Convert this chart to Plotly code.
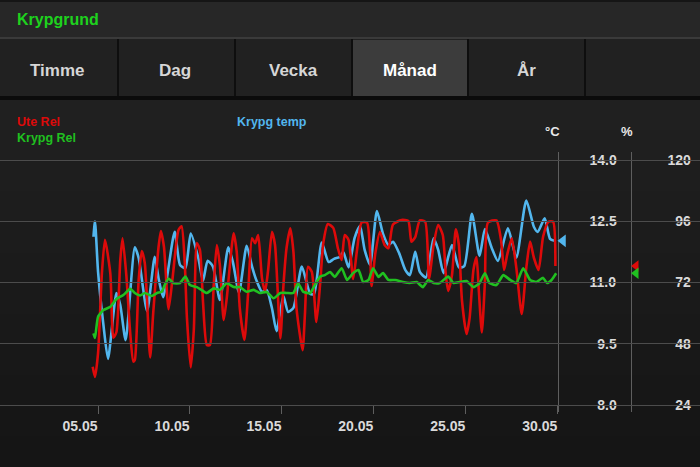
import plotly.graph_objects as go
from datetime import datetime, timedelta

YEAR = 2013

# ---------------- data ----------------
# time stamps as "dd.mm HH"
blue_times = ["04.05 18","04.05 20","05.05 00","05.05 07","05.05 13","06.05 00","06.05 05","06.05 12",
              "07.05 00","07.05 05","07.05 16","08.05 02","08.05 07","08.05 13","09.05 04","09.05 11",
              "09.05 18","10.05 01","10.05 11","10.05 17","10.05 23","11.05 06","11.05 15","12.05 02",
              "12.05 08","12.05 16","13.05 02","13.05 09","13.05 15","13.05 22","14.05 04","14.05 11",
              "14.05 17","15.05 02","15.05 08","15.05 15","16.05 02","16.05 13","16.05 18","17.05 04",
              "17.05 13","17.05 20","18.05 04","18.05 08","18.05 15","18.05 23","19.05 06","19.05 12",
              "19.05 19","20.05 04","20.05 12","20.05 19","21.05 01","21.05 09","21.05 17","21.05 23",
              "22.05 06","22.05 12","22.05 20","23.05 06","23.05 12","23.05 19","24.05 06","24.05 15",
              "24.05 22","25.05 08","25.05 18","26.05 01","26.05 10","26.05 18","27.05 07","27.05 18",
              "28.05 07","28.05 17","28.05 22","29.05 07","29.05 14","29.05 20"]
krypg_temp = [12.12,12.49,11.26,9.96,9.13,10.74,10.45,9.59,
              11.86,11.60,10.30,11.63,11.10,10.64,12.24,11.43,
              11.35,12.20,11.59,11.04,11.53,11.39,10.57,11.86,
              11.50,10.75,11.90,11.39,11.04,10.77,10.82,10.37,
              9.81,10.67,10.28,10.38,11.39,10.72,10.72,11.98,
              11.50,11.58,11.63,11.75,11.37,12.10,12.38,11.80,
              11.43,12.75,12.19,11.92,12.00,11.72,11.31,11.18,
              11.75,11.26,11.12,12.08,11.80,11.23,11.92,11.37,
              11.40,12.68,11.65,12.31,11.84,11.53,12.33,11.61,
              13.01,12.36,12.24,12.57,12.07,12.02]

red_times = ["04.05 17","04.05 20","05.05 00","05.05 05","05.05 09","05.05 16","05.05 20","06.05 00",
             "06.05 05","06.05 08","06.05 13","06.05 18","06.05 22","07.05 00","07.05 05","07.05 09",
             "07.05 13","07.05 20","08.05 00","08.05 07","08.05 10","08.05 14","08.05 20","09.05 01",
             "09.05 09","09.05 13","09.05 17","09.05 20","10.05 01","10.05 05","10.05 09","10.05 13",
             "10.05 17","10.05 22","11.05 02","11.05 07","11.05 11","11.05 15","11.05 20","12.05 00",
             "12.05 09","12.05 13","12.05 17","12.05 23","13.05 04","13.05 09","13.05 13","13.05 17",
             "13.05 22","14.05 02","14.05 06","14.05 11","14.05 15","14.05 22","15.05 02","15.05 06",
             "15.05 11","15.05 15","15.05 19","16.05 03","16.05 06","16.05 10","16.05 15","16.05 21",
             "17.05 02","17.05 06","17.05 12","17.05 19","18.05 01","18.05 06","18.05 10","18.05 15",
             "18.05 21","19.05 02","19.05 08","19.05 15","19.05 19","19.05 21","20.05 02","20.05 08",
             "20.05 14","20.05 19","21.05 01","21.05 12","21.05 21","22.05 01","22.05 06","22.05 12",
             "22.05 19","23.05 00","23.05 06","23.05 12","23.05 18","23.05 22","24.05 01","24.05 06",
             "24.05 11","24.05 15","24.05 19","25.05 01","25.05 05","25.05 10","25.05 14","25.05 17",
             "25.05 21","26.05 01","26.05 05","26.05 16","26.05 22","27.05 02","27.05 06","27.05 12",
             "27.05 18","28.05 01","28.05 07","28.05 12","28.05 17","28.05 23","29.05 05","29.05 12",
             "29.05 18","29.05 21"]
ute_rel = [39.0,35.0,44.3,75.6,88.7,75.6,50.4,52.6,
           80.8,89.3,74.5,52.1,41.0,41.6,73.0,84.3,
           79.6,42.6,60.0,86.0,92.2,86.0,61.5,73.0,
           92.6,94.0,80.8,58.3,38.7,53.4,87.5,84.7,
           64.4,47.5,47.5,71.0,86.7,78.9,57.3,65.9,
           91.3,84.0,62.0,49.5,68.3,89.3,87.4,90.6,
           73.6,68.4,76.9,91.9,86.7,50.1,71.0,85.4,
           93.2,84.1,62.0,45.5,59.3,78.2,76.2,56.5,
           71.8,87.4,94.9,93.4,85.5,80.8,90.6,88.7,
           73.4,84.7,95.5,95.5,84.7,70.6,83.6,91.8,
           86.7,85.4,94.7,96.5,96.1,88.0,89.8,96.3,
           95.8,73.4,86.7,94.5,90.6,74.9,68.7,74.9,
           92.8,86.7,65.1,51.8,58.1,76.9,82.0,69.1,
           52.4,72.2,95.5,96.3,88.7,76.9,82.8,89.3,
           77.7,59.7,77.7,88.0,81.6,76.9,90.0,95.8,
           95.8,78.5]

green_times = ["04.05 18","04.05 20","05.05 00","05.05 07","05.05 16","06.05 00","06.05 09","06.05 18",
               "07.05 00","07.05 07","07.05 13","07.05 22","08.05 05","08.05 11","08.05 15","08.05 20",
               "09.05 02","09.05 11","09.05 18","10.05 00","10.05 09","10.05 15","10.05 22","11.05 07",
               "11.05 15","12.05 00","12.05 09","12.05 17","13.05 02","13.05 11","13.05 19","14.05 04",
               "14.05 13","14.05 22","15.05 06","15.05 15","15.05 21","16.05 04","16.05 13","16.05 19",
               "17.05 02","17.05 08","17.05 15","17.05 21","18.05 06","18.05 13","18.05 21","19.05 04",
               "19.05 10","19.05 17","19.05 23","20.05 06","20.05 12","20.05 19","21.05 04","21.05 14",
               "21.05 23","22.05 08","22.05 16","22.05 23","23.05 06","23.05 14","24.05 01","24.05 08",
               "24.05 16","25.05 01","25.05 10","25.05 18","26.05 01","26.05 07","26.05 16","27.05 01",
               "27.05 10","27.05 18","28.05 03","28.05 12","28.05 20","29.05 05","29.05 10","29.05 16",
               "29.05 22"]
krypg_rel = [52.1,50.3,58.6,61.2,62.5,65.5,67.1,69.5,
             67.9,66.9,67.9,66.7,67.9,68.4,71.0,73.6,
             71.8,71.8,74.3,71.0,70.2,69.1,67.9,69.7,
             69.1,71.7,70.2,70.2,68.4,69.1,67.9,68.3,
             65.8,67.9,67.9,67.9,71.7,68.3,67.9,71.0,
             74.3,74.9,76.1,74.2,77.6,73.0,75.7,76.9,
             72.2,73.0,77.6,74.2,75.7,73.0,73.0,72.2,
             71.8,72.2,70.2,73.0,71.8,71.8,74.3,71.8,
             72.2,72.6,70.2,71.8,75.6,71.8,71.0,74.9,
             73.0,71.8,77.6,73.0,72.2,73.8,71.8,73.0,
             75.6]

temp_ticks = [8.0, 9.5, 11.0, 12.5, 14.0]
rel_ticks = [24, 48, 72, 96, 120]
date_ticks = ["05.05", "10.05", "15.05", "20.05", "25.05", "30.05"]
tabs = ["Timme", "Dag", "Vecka", "Månad", "År"]
active_tab = "Månad"

# ---------------- styling ----------------
W, H = 700, 467
FONT = "Liberation Sans"
RED = "#dd0a0a"
GREEN = "#20c020"
BLUE = "#52b6ee"
GRID = "#4c4c4c"
AXIS = "#5e5e5e"
TXT = "#dadada"


def ts(s):
    d, h = s.split()
    dd, mm = d.split(".")
    return f"{YEAR}-{mm}-{dd} {int(h):02d}:00"


def px(x):
    return x / W


def py(y):
    return 1 - y / H


x_start = datetime(YEAR, 4, 29, 16, 0)
x_end = datetime(YEAR, 5, 30, 0, 0)
plot_right = 557.7
px_per_day = plot_right / ((x_end - x_start).total_seconds() / 86400)
# same time scale stretched over the full page width (used for the axis markers)
x_full_end = x_start + timedelta(days=W / px_per_day)

# y scales: 8..14 degC <-> 24..120 %, plot domain from y=152 to y=412 px
px_per_deg = (405 - 160) / 6.0
t_lo = 8.0 - (412 - 405) / px_per_deg
t_hi = 14.0 + (160 - 152) / px_per_deg
def deg_to_pct(v):
    return 24 + (v - 8.0) * 16
r_lo, r_hi = deg_to_pct(t_lo), deg_to_pct(t_hi)

fig = go.Figure()

fig.add_trace(go.Scatter(x=[ts(t) for t in red_times], y=ute_rel, yaxis="y2", mode="lines",
                         line=dict(color=RED, width=2.6, shape="spline", smoothing=0.6),
                         name="Ute Rel", hoverinfo="skip"))
fig.add_trace(go.Scatter(x=[ts(t) for t in green_times], y=krypg_rel, yaxis="y2", mode="lines",
                         line=dict(color=GREEN, width=2.6, shape="spline", smoothing=0.5),
                         name="Krypg Rel", hoverinfo="skip"))
fig.add_trace(go.Scatter(x=[ts(t) for t in blue_times], y=krypg_temp, mode="lines",
                         line=dict(color=BLUE, width=2.6, shape="spline", smoothing=0.6),
                         name="Krypg temp", hoverinfo="skip"))

# current-value markers beside the axes (last value of each series)
blue_mark_x = x_end + timedelta(days=5.3 / px_per_day)
rel_mark_x = x_end + timedelta(days=(636 - plot_right) / px_per_day)
fig.add_trace(go.Scatter(x=[blue_mark_x], y=[krypg_temp[-1]], xaxis="x2", yaxis="y", mode="markers",
                         cliponaxis=False,
                         marker=dict(symbol="triangle-left", size=11, color=BLUE, line=dict(width=0)),
                         hoverinfo="skip", showlegend=False))
fig.add_trace(go.Scatter(x=[rel_mark_x], y=[ute_rel[-1]], xaxis="x2", yaxis="y2", mode="markers",
                         cliponaxis=False,
                         marker=dict(symbol="triangle-left", size=10, color=RED, line=dict(width=0)),
                         hoverinfo="skip", showlegend=False))
fig.add_trace(go.Scatter(x=[rel_mark_x], y=[krypg_rel[-1]], xaxis="x2", yaxis="y2", mode="markers",
                         cliponaxis=False,
                         marker=dict(symbol="triangle-left", size=10, color=GREEN, line=dict(width=0)),
                         hoverinfo="skip", showlegend=False))

# ---------------- background / chrome shapes ----------------
shapes = []
def rect(x0, y0, x1, y1, color):
    shapes.append(dict(type="rect", xref="paper", yref="paper", x0=px(x0), x1=px(x1),
                       y0=py(y1), y1=py(y0), fillcolor=color, line=dict(width=0), layer="below"))

# soft vertical gradient of the chart area
grad = ["#202020", "#1f1f1f", "#1e1e1e", "#1d1d1d", "#1c1c1c", "#1b1b1b", "#1a1a1a",
        "#191919", "#181818", "#171717", "#161616", "#151515"]
band = (467 - 100) / len(grad)
for i, c in enumerate(grad):
    rect(0, 100 + i * band, 700, 100 + (i + 1) * band + 0.5, c)
rect(0, 0, 700, 38, "#272727")
rect(0, 0, 700, 2, "#151515")
rect(0, 37, 700, 39, "#3a3a3a")
rect(0, 39, 700, 97, "#212121")
rect(353, 40, 467, 96, "#3c3c3c")
for dx in [118, 235, 352, 468, 585]:
    rect(dx - 1, 39, dx + 1, 97, "#0e0e0e")
rect(0, 96, 700, 100, "#0b0b0b")

# ---------------- annotations ----------------
ann = []
ann.append(dict(text="Krypgrund", x=px(15), y=py(20), xref="paper", yref="paper", xanchor="left",
                yanchor="middle", showarrow=False,
                font=dict(family=FONT, size=16, color="#1ed21e", weight="bold")))
tab_centers = [58, 175, 293, 410, 526]
for name, cx in zip(tabs, tab_centers):
    ann.append(dict(text=name, x=px(cx), y=py(70), xref="paper", yref="paper", xanchor="center",
                    yanchor="middle", showarrow=False,
                    font=dict(family=FONT, size=17, weight="bold",
                              color="#ffffff" if name == active_tab else "#d6d6d6")))
for text, color, x, y in [("Ute Rel", RED, 15, 122), ("Krypg Rel", GREEN, 15, 138),
                          ("Krypg temp", BLUE, 235, 122)]:
    ann.append(dict(text=text, x=px(x), y=py(y), xref="paper", yref="paper", xanchor="left",
                    yanchor="middle", showarrow=False,
                    font=dict(family=FONT, size=12.5, color=color, weight="bold")))
for text, x in [("°C", 552), ("%", 627)]:
    ann.append(dict(text=text, x=px(x), y=py(131), xref="paper", yref="paper", xanchor="center",
                    yanchor="middle", showarrow=False,
                    font=dict(family=FONT, size=13, color="#e8e8e8", weight="bold")))

FS = "\u2007"
def pad(s, n):
    return FS * (n - len(s.replace(".", ""))) + s

fig.update_layout(
    width=W, height=H,
    margin=dict(l=0, r=0, t=0, b=0),
    paper_bgcolor="#1a1a1a", plot_bgcolor="rgba(0,0,0,0)",
    showlegend=False, hovermode=False,
    font=dict(family=FONT, color=TXT, weight="bold"),
    shapes=shapes, annotations=ann,
    xaxis=dict(type="date", domain=[0, plot_right / W], range=[x_start, x_end],
               anchor="free", position=py(405), showgrid=False, zeroline=False, showline=False,
               tickvals=[f"{YEAR}-{t[3:5]}-{t[0:2]}" for t in date_ticks], ticktext=date_ticks,
               ticks="outside", ticklen=8, tickcolor=AXIS, tickwidth=1,
               ticklabelshift=-18, ticklabelstandoff=0,
               tickfont=dict(family=FONT, size=14, color=TXT, weight="bold")),
    xaxis2=dict(type="date", domain=[0, 1], range=[x_start, x_full_end], anchor="free",
                position=0, visible=False),
    yaxis=dict(domain=[py(412), py(152)], range=[t_lo, t_hi], side="right", anchor="x",
               showline=True, linecolor=AXIS, linewidth=1, zeroline=False,
               showgrid=True, gridcolor=GRID, gridwidth=1,
               tickvals=temp_ticks, ticktext=[pad(f"{v:.1f}", 3) for v in temp_ticks],
               ticks="outside", ticklen=8, tickcolor=AXIS, ticklabelstandoff=20,
               tickfont=dict(family=FONT, size=14, color=TXT, weight="bold")),
    yaxis2=dict(overlaying="y", range=[r_lo, r_hi], side="right", anchor="free",
                position=630.7 / W, showline=True, linecolor=AXIS, linewidth=1,
                showgrid=False, zeroline=False,
                tickvals=rel_ticks, ticktext=[pad(str(v), 3) for v in rel_ticks],
                ticks="outside", ticklen=7, tickcolor=AXIS, ticklabelstandoff=26,
                tickfont=dict(family=FONT, size=14, color=TXT, weight="bold")),
)

fig.write_html("out.html", config={"displayModeBar": False, "staticPlot": True})
